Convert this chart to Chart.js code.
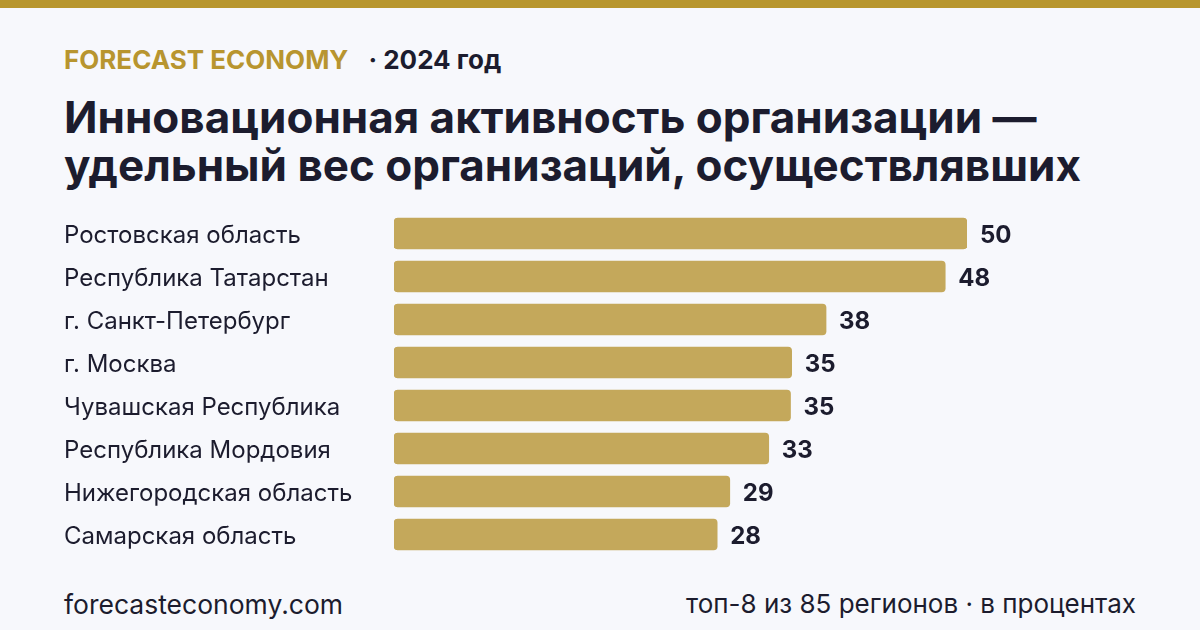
<!DOCTYPE html>
<html lang="ru">
<head>
<meta charset="utf-8">
<script src="https://cdn.jsdelivr.net/npm/chart.js@4/dist/chart.umd.min.js"></script>
<style>
  html, body { margin: 0; padding: 0; }
  body {
    width: 1200px; height: 630px; overflow: hidden; position: relative;
    background: #f7f8fc; font-family: Inter, 'Noto Sans', sans-serif; color: #1c1c2e;
  }
  .topbar { position: absolute; left: 0; top: 0; width: 1200px; height: 8px; background: #b8962e; }
  .kicker { position: absolute; left: 64px; top: 47px; font-size: 26px; line-height: 26px; font-weight: 700; white-space: nowrap; }
  .kicker .brand { color: #b8952f; }
  .kicker .year { color: #1c1c2e; margin-left: 20px; }
  .title { position: absolute; left: 64px; top: 93px; font-size: 44px; line-height: 48px; font-weight: 700; white-space: nowrap; }
  .chart { position: absolute; left: 64px; top: 206px; width: 1136px; height: 356px; }
  .foot { position: absolute; top: 591px; font-size: 26px; line-height: 26px; white-space: nowrap; }
  .foot.left { left: 64px; font-size: 26.5px; }
  .foot.right { right: 64px; }
</style>
</head>
<body>
<div class="topbar"></div>
<div class="kicker"><span class="brand">FORECAST ECONOMY</span><span class="year">· 2024 год</span></div>
<div class="title">Инновационная активность организации —<br>удельный вес организаций, осуществлявших</div>
<div class="chart"><canvas id="barChart" width="1136" height="356"></canvas></div>
<div class="foot left">forecasteconomy.com</div>
<div class="foot right">топ-8 из 85 регионов · в процентах</div>

<script>
// ── DATA ─────────────────────────────────────────
const regions = [
  'Ростовская область',
  'Республика Татарстан',
  'г. Санкт-Петербург',
  'г. Москва',
  'Чувашская Республика',
  'Республика Мордовия',
  'Нижегородская область',
  'Самарская область',
];
const shares = [50.0, 48.1, 37.7, 34.7, 34.6, 32.7, 29.3, 28.2];
const xMin = 0;
const xMax = 50;

const INK  = '#1c1c2e';
const GOLD = '#c4a85b';

// ── VALUE LABELS ─────────────────────────────────
const valueLabels = {
  id: 'valueLabels',
  afterDatasetsDraw(chart) {
    const { ctx } = chart;
    const meta = chart.getDatasetMeta(0);
    ctx.save();
    ctx.font = '700 24px Inter, "Noto Sans", sans-serif';
    ctx.fillStyle = INK;
    ctx.textAlign = 'left';
    ctx.textBaseline = 'middle';
    meta.data.forEach((bar, i) => {
      ctx.fillText(String(Math.round(shares[i])), bar.x + 13, bar.y + 2);
    });
    ctx.restore();
  },
};

// ── CHART ────────────────────────────────────────
new Chart(document.getElementById('barChart').getContext('2d'), {
  type: 'bar',
  data: {
    labels: regions,
    datasets: [{
      data: shares,
      backgroundColor: GOLD,
      borderRadius: 4,
      borderSkipped: false,
      barThickness: 31,
    }],
  },
  options: {
    indexAxis: 'y',
    responsive: false,
    animation: false,
    layout: { padding: { top: 6, bottom: 6, left: 0, right: 233 } },
    plugins: { legend: { display: false }, tooltip: { enabled: false } },
    scales: {
      x: { display: false, min: xMin, max: xMax },
      y: {
        grid: { display: false },
        border: { display: false },
        ticks: {
          crossAlign: 'far',
          color: INK,
          padding: 0,
          labelOffset: 2,
          font: { family: 'Inter', size: 24 },
        },
        afterFit(scale) {
          scale.width = 330;
          scale.paddingTop = 0;
          scale.paddingBottom = 0;
        },
      },
    },
  },
  plugins: [valueLabels],
});
</script>
</body>
</html>
